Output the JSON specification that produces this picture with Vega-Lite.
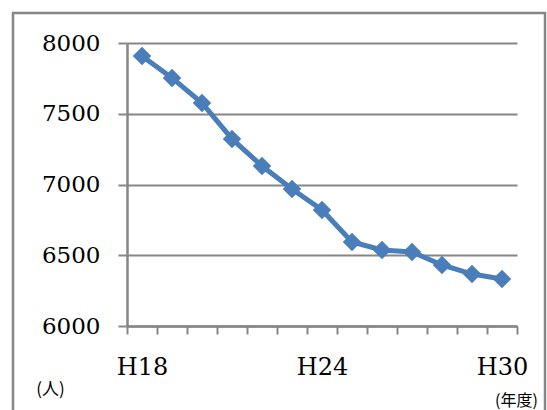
{
  "$schema": "https://vega.github.io/schema/vega-lite/v6.json",
  "autosize": {"type": "none"},
  "padding": {"left": 13, "top": 13, "right": 2, "bottom": 0},
  "width": 532,
  "height": 410,
  "background": "white",
  "config": {
    "view": {"stroke": "#868686", "strokeWidth": 2.5}
  },
  "data": {
    "values": [
      {"year": 18, "value": 7908},
      {"year": 19, "value": 7753},
      {"year": 20, "value": 7576},
      {"year": 21, "value": 7322},
      {"year": 22, "value": 7131},
      {"year": 23, "value": 6968},
      {"year": 24, "value": 6820},
      {"year": 25, "value": 6594},
      {"year": 26, "value": 6537},
      {"year": 27, "value": 6523},
      {"year": 28, "value": 6431},
      {"year": 29, "value": 6367},
      {"year": 30, "value": 6332}
    ]
  },
  "encoding": {
    "x": {
      "field": "year",
      "type": "quantitative",
      "scale": {"domain": [17.5, 30.5], "range": [114, 504], "nice": false, "zero": false},
      "axis": {
        "offset": -97,
        "values": [17.5, 18, 18.5, 19.5, 20.5, 21.5, 22.5, 23.5, 24, 24.5, 25.5, 26.5, 27.5, 28.5, 29.5, 30, 30.5],
        "labelExpr": "datum.value == 18 || datum.value == 24 || datum.value == 30 ? 'H' + datum.value : ''",
        "tickOpacity": {"condition": {"test": "datum.value % 1 === 0", "value": 0}, "value": 1},
        "tickSize": 8,
        "tickWidth": 2,
        "tickColor": "#868686",
        "domainColor": "#868686",
        "domainWidth": 2.5,
        "labelFont": "DejaVu Serif",
        "labelColor": "#000000",
        "labelFontSize": 24,
        "labelPadding": 21,
        "labelOverlap": false,
        "labelFlush": false,
        "grid": false,
        "title": "(年度)",
        "titleColor": "#000000",
        "titleFont": "Noto Sans CJK JP",
        "titleFontSize": 16,
        "titleFontWeight": "normal",
        "titleAnchor": null,
        "titleAlign": "center",
        "titleBaseline": "middle",
        "titleX": 503,
        "titleY": 74
      }
    },
    "y": {
      "field": "value",
      "type": "quantitative",
      "scale": {"domain": [6000, 8000], "range": [313, 30], "nice": false, "zero": false},
      "axis": {
        "offset": -114,
        "values": [6000, 6500, 7000, 7500, 8000],
        "format": "d",
        "tickSize": 9,
        "tickWidth": 2,
        "tickColor": "#868686",
        "domainColor": "#868686",
        "domainWidth": 2.5,
        "grid": true,
        "gridColor": "#868686",
        "gridWidth": 2,
        "labelFont": "DejaVu Serif",
        "labelColor": "#000000",
        "labelFontSize": 23,
        "labelPadding": 18,
        "labelBaseline": "middle",
        "title": "(人)",
        "titleColor": "#000000",
        "titleFont": "Noto Sans CJK JP",
        "titleFontSize": 17,
        "titleFontWeight": "normal",
        "titleAngle": 0,
        "titleAnchor": null,
        "titleAlign": "center",
        "titleBaseline": "middle",
        "titleX": -77,
        "titleY": 376
      }
    }
  },
  "layer": [
    {"mark": {"type": "line", "color": "#4A7EBB", "strokeWidth": 5}},
    {"mark": {"type": "point", "shape": "diamond", "filled": true, "opacity": 1, "color": "#4A7EBB", "size": 340}}
  ]
}
